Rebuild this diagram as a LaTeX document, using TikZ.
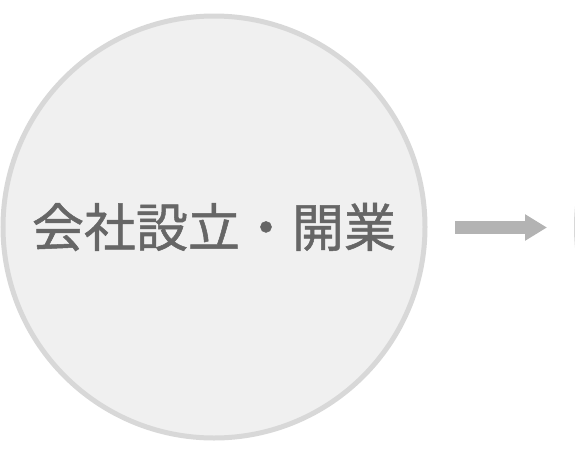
\documentclass[tikz,border=0pt]{standalone}
\usepackage{fontspec}
\newfontfamily\cjk[FakeBold=1.0]{Noto Sans CJK JP}
\usetikzlibrary{arrows.meta}
\definecolor{circfill}{HTML}{F0F0F0}
\definecolor{circline}{HTML}{D8D8D8}
\definecolor{txtgray}{HTML}{666666}
\definecolor{arrgray}{HTML}{B3B3B3}
\tikzset{
  stagecircle/.style={circle, draw=circline, fill=circfill, line width=5pt,
    minimum size=422pt, inner sep=0pt, text=txtgray,
    font=\cjk\fontsize{52}{52}\selectfont},
  blockarrow/.style={draw=arrgray, line width=13pt,
    -{Triangle[length=22pt,width=25pt,fill=arrgray]}}
}
\begin{document}
\begin{tikzpicture}[x=1pt,y=-1pt]
\useasboundingbox (0,0) rectangle (575,453);
\clip (0,0) rectangle (575,453);
\node[stagecircle] (c1) at (214,227) {会社設立・開業};
\node[stagecircle] (c2) at (787.5,227) {};
\coordinate (a1) at (455,227.5);
\coordinate (a2) at (547,227.5);
\draw[blockarrow] (a1) -- (a2);
\end{tikzpicture}
\end{document}
